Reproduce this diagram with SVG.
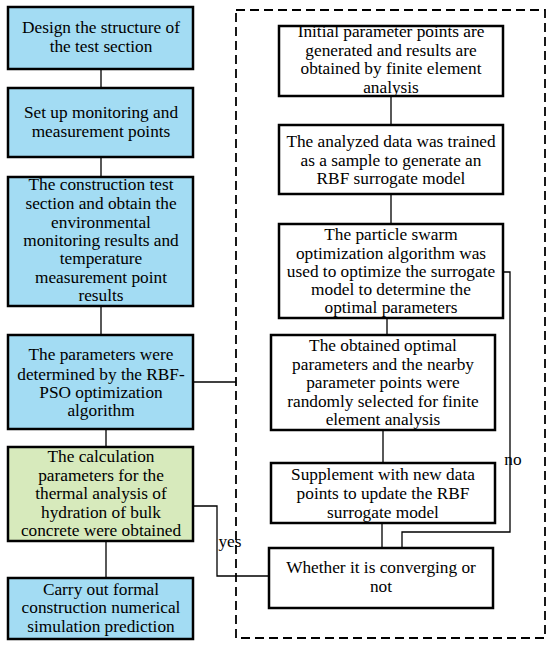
<svg xmlns="http://www.w3.org/2000/svg" width="550" height="648" viewBox="0 0 550 648">
<style>
.b{stroke:#000;stroke-width:2.5}
.blue{fill:#a3dcf3}
.green{fill:#d7eabc}
.white{fill:#fff}
.c{fill:none;stroke:#000;stroke-width:1.3}
text{font-family:"Liberation Serif","Times New Roman",serif;font-size:17.3px;fill:#000;text-anchor:middle}
</style>
<rect width="550" height="648" fill="#fff"/>
<rect id="frame" x="236" y="10" width="309" height="628" fill="none" stroke="#000" stroke-width="1.8" stroke-dasharray="9,5"/>
<g id="connectors">
<path class="c" d="M101 69V88M101 157V177M101 306V335M106 429V447M106 541V578"/>
<path class="c" d="M193 382H236"/>
<path class="c" d="M191 506H217V576H269"/>
<path class="c" d="M391 96V125M391 194V224M387 318V335M383 430V463M382 523V548"/>
<path class="c" d="M503 272H510V532H402V548"/>
</g>
<text x="230" y="547">yes</text>
<text x="513" y="465">no</text>
<g id="n1"><rect class="b blue" x="8" y="7" width="185" height="62"/>
<text x="101" y="33">Design the structure of</text><text x="101" y="52">the test section</text></g>
<g id="n2"><rect class="b blue" x="8" y="88" width="185" height="69"/>
<text x="101" y="118">Set up monitoring and</text><text x="101" y="137">measurement points</text></g>
<g id="n3"><rect class="b blue" x="8" y="177" width="185" height="129"/>
<text x="101" y="190">The construction test</text><text x="101" y="209">section and obtain the</text><text x="101" y="228">environmental</text><text x="101" y="246">monitoring results and</text><text x="101" y="264">temperature</text><text x="101" y="283">measurement point</text><text x="101" y="301">results</text></g>
<g id="n4"><rect class="b blue" x="8" y="335" width="185" height="94"/>
<text x="101" y="360">The parameters were</text><text x="101" y="380">determined by the RBF-</text><text x="101" y="398">PSO optimization</text><text x="101" y="416">algorithm</text></g>
<g id="n5"><rect class="b green" x="8" y="447" width="185" height="94"/>
<text x="101" y="462">The calculation</text><text x="101" y="481">parameters for the</text><text x="101" y="499">thermal analysis of</text><text x="101" y="518">hydration of bulk</text><text x="101" y="536">concrete were obtained</text></g>
<g id="n6"><rect class="b blue" x="8" y="578" width="185" height="61"/>
<text x="101" y="595">Carry out formal</text><text x="101" y="613">construction numerical</text><text x="101" y="632">simulation prediction</text></g>
<g id="r1"><rect class="b white" x="279" y="26" width="224" height="70"/>
<text x="391" y="37">Initial parameter points are</text><text x="391" y="55.5">generated and results are</text><text x="391" y="74">obtained by finite element</text><text x="391" y="92.5">analysis</text></g>
<g id="r2"><rect class="b white" x="279" y="125" width="224" height="69"/>
<text x="391" y="147">The analyzed data was trained</text><text x="391" y="166">as a sample to generate an</text><text x="391" y="184">RBF surrogate model</text></g>
<g id="r3"><rect class="b white" x="279" y="224" width="224" height="94"/>
<text x="391" y="240">The particle swarm</text><text x="391" y="259">optimization algorithm was</text><text x="391" y="277">used to optimize the surrogate</text><text x="391" y="295">model to determine the</text><text x="391" y="313">optimal parameters</text></g>
<g id="r4"><rect class="b white" x="271" y="335" width="224" height="95"/>
<text x="383" y="351">The obtained optimal</text><text x="383" y="370">parameters and the nearby</text><text x="383" y="388">parameter points were</text><text x="383" y="407">randomly selected for finite</text><text x="383" y="425">element analysis</text></g>
<g id="r5"><rect class="b white" x="271" y="463" width="224" height="60"/>
<text x="383" y="480">Supplement with new data</text><text x="383" y="499">points to update the RBF</text><text x="383" y="518">surrogate model</text></g>
<g id="r6"><rect class="b white" x="269" y="548" width="224" height="60"/>
<text x="381" y="573">Whether it is converging or</text><text x="381" y="592">not</text></g>
</svg>
